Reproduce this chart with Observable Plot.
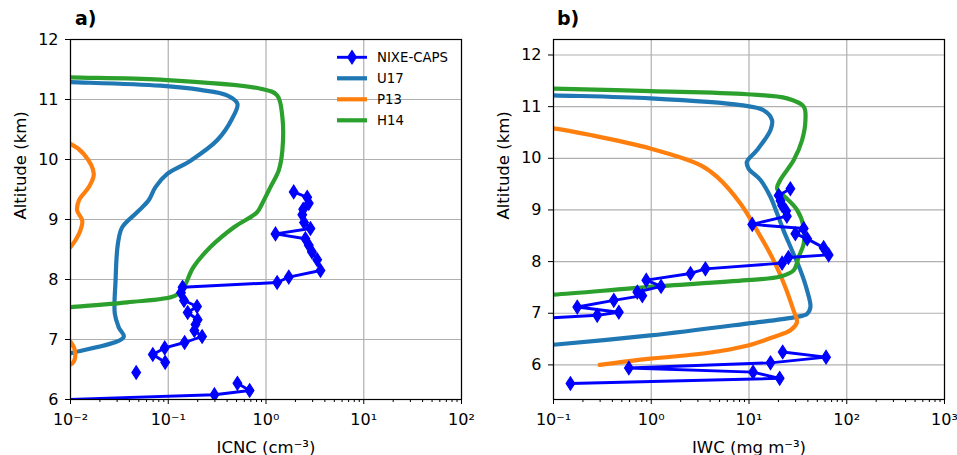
<!DOCTYPE html>
<html><head><meta charset="utf-8">
<script src="https://cdn.jsdelivr.net/npm/d3@7"></script>
<script src="https://cdn.jsdelivr.net/npm/@observablehq/plot@0.6"></script>
<style>
body{margin:0;background:#fff;}
#wrap{position:relative;width:957px;height:455px;overflow:hidden;font-family:"DejaVu Sans",sans-serif;background:#fff;}
#wrap svg{overflow:visible;}
.pl{position:absolute;top:0;}
.tag{position:absolute;top:7px;font:bold 19px "DejaVu Sans",sans-serif;color:#000;}
</style></head><body><div id="wrap"></div>
<script>
// ---------- DATA ----------
// Panel a) ICNC (cm^-3) vs altitude (km)
const nixeAltA = [5.95, 6.08, 6.15, 6.27, null, 6.45, null, 6.62, 6.75, 6.86, 6.95, 7.05, 7.15, 7.25, 7.33, 7.45, 7.55, 7.65, 7.78, 7.87, 7.95, 8.04, 8.15, 8.33, 8.46, 8.57, 8.68, 8.76, 8.85, 8.95, 9.08, 9.17, 9.27, 9.37, 9.46];
const nixeIcnc = [0.001, 0.297, 0.68, 0.51, null, 0.047, null, 0.093, 0.0695, 0.092, 0.147, 0.222, 0.185, 0.19, 0.2, 0.158, 0.197, 0.145, 0.135, 0.14, 1.30, 1.71, 3.61, 3.34, 2.95, 2.74, 2.53, 1.25, 2.85, 2.45, 2.35, 2.4, 2.74, 2.64, 1.92];
const u17AltA = [6.70, 6.77, 7.04, 7.20, 7.43, 7.98, 8.59, 8.87, 9.12, 9.32, 9.54, 9.76, 9.98, 10.32, 10.68, 10.93, 11.07, 11.16, 11.23, 11.29, 11.31];
const u17Icnc = [0.007, 0.01, 0.035, 0.0312, 0.0284, 0.0289, 0.0305, 0.0338, 0.048, 0.063, 0.074, 0.0976, 0.169, 0.316, 0.45, 0.51, 0.40, 0.214, 0.083, 0.01, 0.004];
const p13AltA = [6.50, 6.60, 6.76, 6.96, 7.10, 7.80, 8.30, 8.54, 8.76, 8.98, 9.15, 9.32, 9.54, 9.76, 10.09, 10.26, 10.35];
const p13Icnc = [0.006, 0.0104, 0.0112, 0.01, 0.007, 0.004, 0.007, 0.01, 0.0122, 0.0132, 0.0117, 0.0122, 0.0154, 0.0173, 0.0137, 0.01, 0.006];
const h14AltA = [7.50, 7.54, 7.62, 7.73, 7.87, 8.20, 8.54, 8.87, 9.12, 9.26, 9.54, 9.82, 10.15, 10.71, 11.07, 11.18, 11.33, 11.37, 11.39];
const h14Icnc = [0.005, 0.01, 0.038, 0.118, 0.144, 0.18, 0.27, 0.47, 0.81, 0.91, 1.11, 1.35, 1.47, 1.47, 1.30, 0.88, 0.083, 0.01, 0.004];

// Panel b) IWC (mg m^-3) vs altitude (km)
const nixeAltB = [5.64, 5.74, 5.86, 5.94, 6.04, 6.15, 6.25, null, 6.88, 6.96, 7.02, 7.12, 7.25, 7.34, 7.41, 7.52, 7.64, 7.77, 7.86, 7.97, 8.08, 8.13, 8.27, 8.44, 8.54, 8.64, 8.72, 8.88, 8.98, 9.09, 9.18, 9.28, 9.41];
const nixeIwc = [0.149, 20.6, 11, 0.59, 16.6, 61.4, 22.1, null, 0.05, 0.28, 0.466, 0.175, 0.414, 0.81, 0.72, 1.26, 0.89, 2.52, 3.58, 21.8, 25.3, 65.3, 58, 39.4, 29.8, 36.3, 10.8, 24.4, 24, 21.8, 21, 20.1, 26.5];
const u17AltB = [6.35, 6.39, 6.57, 6.80, 6.92, 6.99, 7.12, 7.44, 7.83, 8.22, 8.60, 8.93, 9.25, 9.58, 9.80, 9.93, 10.16, 10.55, 10.74, 10.93, 11.03, 11.16, 11.22, 11.24];
const u17Iwc = [0.05, 0.1, 0.98, 9.5, 28.6, 39.3, 42.5, 39.3, 33.6, 27.5, 22.6, 19.4, 16.6, 13.1, 9.9, 9.5, 12.1, 16.6, 17.2, 14.1, 8.2, 0.98, 0.1, 0.05];
const p13AltB = [6.00, 6.12, 6.23, 6.37, 6.54, 6.67, 6.83, 7.05, 7.50, 8.02, 8.60, 9.12, 9.64, 9.87, 10.19, 10.45, 10.58, 10.62];
const p13Iwc = [0.297, 0.98, 3.73, 9.5, 17.9, 26.5, 31, 28.6, 23.6, 17.9, 12.1, 8.2, 4.72, 3.18, 0.98, 0.24, 0.1, 0.06];
const h14AltB = [7.33, 7.36, 7.51, 7.64, 7.71, 7.83, 8.09, 8.35, 8.67, 9.00, 9.22, 9.41, 9.58, 9.96, 10.35, 10.74, 11.00, 11.16, 11.24, 11.30, 11.35, 11.37];
const h14Iwc = [0.05, 0.1, 0.98, 9.5, 20.9, 28.6, 32.2, 36.3, 36.3, 31, 24.4, 19.4, 20.9, 28.6, 34.9, 37.8, 36.3, 24.5, 9.5, 0.98, 0.1, 0.05];

// Ticks and labels
const xTicksA = [0.01, 0.1, 1, 10, 100];
const xTicksB = [0.1, 1, 10, 100, 1000];
const yTicksA = [6, 7, 8, 9, 10, 11, 12];
const yTicksB = [6, 7, 8, 9, 10, 11, 12];
const legendLabels = ["NIXE-CAPS", "U17", "P13", "H14"];
const legendColors = ["#0000ff", "#1f77b4", "#ff7f0e", "#2ca02c"];
const panelTags = ["a)", "b)"];

// ---------- HELPERS ----------
const rows = (ys, xs) => ys.map((y, i) => ({y, x: xs[i]}));
const supMap = {"-": "\u207B", "0": "\u2070", "1": "\u00B9", "2": "\u00B2", "3": "\u00B3"};
const supFmt = d => "10" + String(Math.round(Math.log10(d))).split("").map(c => supMap[c]).join("");
const minorOf = ticks => {
  const out = [];
  for (let i = 0; i < ticks.length - 1; i++) for (let k = 2; k <= 9; k++) out.push(ticks[i] * k);
  return out;
};
const thinDiamond = {
  draw(ctx, size) {
    const r = Math.sqrt(size / Math.PI);
    ctx.moveTo(0, -r * 1.4); ctx.lineTo(r * 0.9, 0); ctx.lineTo(0, r * 1.4); ctx.lineTo(-r * 0.9, 0); ctx.closePath();
  }
};
const gridStyle = {stroke: "#b0b0b0", strokeOpacity: 1, strokeWidth: 1.2};

function panel({width, ml, mr, xDomain, yDomain, xTicks, yTicks, models, nixe, xLabel}) {
  return Plot.plot({
    width, height: 455,
    marginLeft: ml, marginRight: mr, marginTop: 39, marginBottom: 56,
    x: {type: "log", domain: xDomain},
    y: {domain: yDomain},
    style: {fontFamily: "DejaVu Sans, sans-serif", fontSize: "16px", color: "black", background: "white", overflow: "visible"},
    marks: [
      Plot.gridX(xTicks, gridStyle),
      Plot.gridY(yTicks, gridStyle),
      ...models.map((m, i) => Plot.line(m, {x: "x", y: "y", stroke: legendColors[i + 1], strokeWidth: 4.2, curve: "catmull-rom", clip: true})),
      Plot.line(nixe, {x: "x", y: "y", stroke: legendColors[0], strokeWidth: 2.9, clip: true}),
      Plot.dot(nixe.filter(d => d.x != null), {x: "x", y: "y", fill: legendColors[0], stroke: legendColors[0], strokeWidth: 1.2, symbol: thinDiamond, r: 4.8, clip: true}),
      Plot.frame({stroke: "black", strokeWidth: 1.2}),
      Plot.axisX(xTicks, {tickSize: 5, tickPadding: 9, tickFormat: supFmt, label: null, fontSize: 16}),
      Plot.axisX(minorOf(xTicks), {tickSize: 3, tickFormat: () => "", label: null}),
      Plot.axisY(yTicks, {tickSize: 5, tickPadding: 7, tickFormat: d => String(d), label: null, fontSize: 16}),
      Plot.text([xLabel], {frameAnchor: "bottom", dy: 53, lineAnchor: "bottom", text: d => d, fontSize: 16.5}),
      Plot.text(["Altitude (km)"], {frameAnchor: "left", dx: -50, rotate: -90, text: d => d, fontSize: 16.5})
    ]
  });
}

const wrap = document.getElementById("wrap");

const left = panel({
  width: 480, ml: 70, mr: 19,
  xDomain: [0.01, 100], yDomain: [6, 12],
  xTicks: xTicksA, yTicks: yTicksA,
  models: [rows(u17AltA, u17Icnc), rows(p13AltA, p13Icnc), rows(h14AltA, h14Icnc)],
  nixe: rows(nixeAltA, nixeIcnc),
  xLabel: "ICNC (cm\u207B\u00B3)"
});
left.classList.add("pl"); left.style.left = "0px";
wrap.appendChild(left);

const right = panel({
  width: 477, ml: 73, mr: 13,
  xDomain: [0.1, 1000], yDomain: [5.33, 12.3],
  xTicks: xTicksB, yTicks: yTicksB,
  models: [rows(u17AltB, u17Iwc), rows(p13AltB, p13Iwc), rows(h14AltB, h14Iwc)],
  nixe: rows(nixeAltB, nixeIwc),
  xLabel: "IWC (mg m\u207B\u00B3)"
});
right.classList.add("pl"); right.style.left = "480px";
wrap.appendChild(right);

// panel tags
[[75, panelTags[0]], [557, panelTags[1]]].forEach(([x, t]) => {
  const d = document.createElement("div");
  d.className = "tag"; d.style.left = x + "px"; d.textContent = t;
  wrap.appendChild(d);
});

// legend overlay (inside panel a, upper right)
const lg = d3.select(wrap).append("svg")
  .attr("width", 480).attr("height", 455)
  .style("position", "absolute").style("left", "0px").style("top", "0px");
legendLabels.forEach((lab, i) => {
  const y = 57.3 + i * 21;
  const g = lg.append("g");
  g.append("line").attr("x1", 337).attr("x2", 367).attr("y1", y).attr("y2", y)
    .attr("stroke", legendColors[i]).attr("stroke-width", i === 0 ? 2.9 : 4.2);
  if (i === 0) {
    g.append("path").attr("d", "M352," + (y - 6.7) + "L356.3," + y + "L352," + (y + 6.7) + "L347.7," + y + "Z")
      .attr("fill", legendColors[0]).attr("stroke", legendColors[0]).attr("stroke-width", 1.2);
  }
  g.append("text").attr("x", 377).attr("y", y).attr("dy", "0.35em")
    .attr("font-family", "DejaVu Sans, sans-serif").attr("font-size", 13.3).text(lab);
});
</script></body></html>
